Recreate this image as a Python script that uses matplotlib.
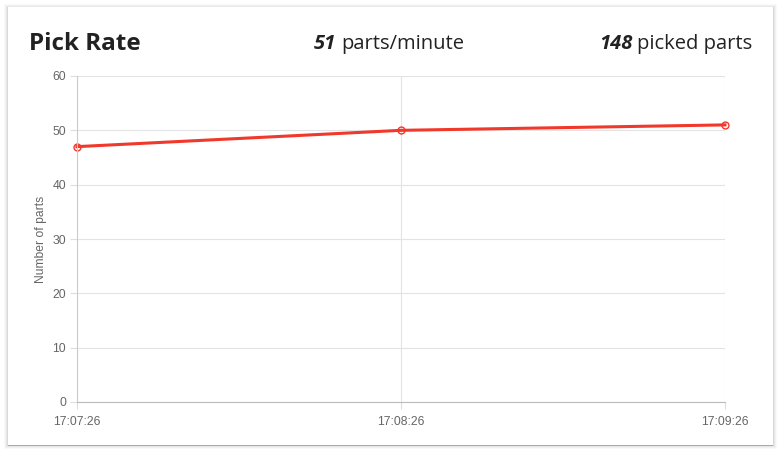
import matplotlib.pyplot as plt
from matplotlib.patches import Rectangle

times = ["17:07:26", "17:08:26", "17:09:26"]
parts = [47, 50, 51]
y_ticks = [0, 10, 20, 30, 40, 50, 60]
rate = 51
picked = 148

W, H = 781, 453
fig = plt.figure(figsize=(W / 100, H / 100), dpi=100)
fig.patch.set_facecolor("white")


def px_rect(x0, y0, x1, y1, **kw):
    # rectangle given in pixel coords measured from the top-left
    r = Rectangle((x0 / W, 1 - y1 / H), (x1 - x0) / W, (y1 - y0) / H,
                  transform=fig.transFigure, edgecolor="none", **kw)
    fig.patches.append(r)


# soft card shadow
for grow, a in [(4, 0.025), (3, 0.03), (2, 0.04), (1, 0.06)]:
    px_rect(8 - grow, 7 - grow + 1, 773 + grow, 445 + grow, facecolor="black", alpha=a, zorder=0)
px_rect(8, 8, 773, 446, facecolor="black", alpha=0.22, zorder=0)
px_rect(8, 7, 773, 445, facecolor="white", zorder=1)

font = "Open Sans"
dark = "#222222"
ty = 1 - 44 / H
fig.text(29 / W, ty, "Pick Rate", fontsize=17.5, fontweight="bold", family=font,
         color=dark, va="center", ha="left")

fig.canvas.draw()
r = fig.canvas.get_renderer()

n1 = fig.text(314 / W, ty, f"{rate}", fontsize=14.5, fontweight="bold", style="italic",
              family=font, color=dark, va="center", ha="left")
bb = n1.get_window_extent(r)
fig.text((bb.x1 + 5) / W, ty, "parts/minute", fontsize=14.5, family=font,
         color=dark, va="center", ha="left")

t2 = fig.text(752 / W, ty, "picked parts", fontsize=14.5, family=font,
              color=dark, va="center", ha="right")
bb = t2.get_window_extent(r)
fig.text((bb.x0 - 4) / W, ty, f"{picked}", fontsize=14.5, fontweight="bold", style="italic",
         family=font, color=dark, va="center", ha="right")

ax = fig.add_axes([77 / W, (H - 402) / H, (725 - 77) / W, (402 - 76) / H])
ax.set_zorder(2)
x = list(range(len(times)))
ax.plot(x, parts, color="#f0382b", lw=2.2, marker="o", ms=5, mfc="none", mec="#f0382b", mew=1, clip_on=False)
ax.set_xlim(0, len(times) - 1)
ax.set_ylim(0, 60)
ax.set_xticks(x, times)
ax.set_yticks(y_ticks)
ax.grid(True, color="#e3e3e3", lw=0.8)
ax.set_axisbelow(True)
for s in ["top", "right"]:
    ax.spines[s].set_visible(False)
ax.spines["left"].set_color("#cccccc")
ax.spines["bottom"].set_color("#bbbbbb")
ax.tick_params(colors="#666666", labelsize=8.8, length=5, width=0.8, pad=3)
ax.tick_params(axis="x", pad=5)
ax.tick_params(axis="both", color="#dddddd")
for lab in ax.get_xticklabels() + ax.get_yticklabels():
    lab.set_family("Liberation Sans")
ax.set_ylabel("Number of parts", fontsize=8.7, color="#666666", labelpad=4, family="Liberation Sans")

fig.savefig("out.png", dpi=100)
